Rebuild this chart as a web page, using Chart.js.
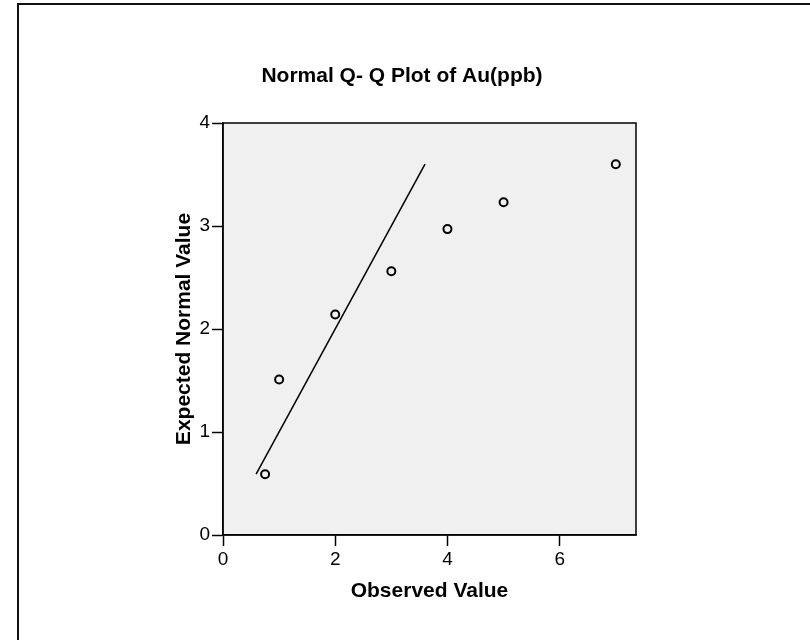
<!DOCTYPE html>
<html>
<head>
<meta charset="utf-8">
<script src="https://cdn.jsdelivr.net/npm/chart.js@4/dist/chart.umd.min.js"></script>
<style>
  html, body { margin: 0; padding: 0; background: #fff; }
  canvas { display: block; }
</style>
</head>
<body>
<canvas id="qqChart" width="810" height="640"></canvas>
<script>
// values
const observed = [0.75, 1, 2, 3, 4, 5, 7];
const expected = [0.59, 1.51, 2.14, 2.56, 2.97, 3.23, 3.60];
const refLineX = [0.59, 3.60];
const refLineY = [0.59, 3.60];
const xTicks = [0, 2, 4, 6];
const yTicks = [0, 1, 2, 3, 4];

const FONT = "'Liberation Sans', Arial, sans-serif";

const chartTitle = "Normal Q- Q Plot of Au(ppb)";
const xTitle = "Observed Value";
const yTitle = "Expected Normal Value";

const frame = {
  id: "frame",
  beforeDraw(chart) {
    const { ctx, chartArea: a } = chart;
    ctx.save();
    ctx.fillStyle = "#fff";
    ctx.fillRect(0, 0, chart.width, chart.height);
    // outer border, only top and left visible
    ctx.fillStyle = "#111";
    ctx.fillRect(17, 3, 2, chart.height);
    ctx.fillRect(17, 3, chart.width, 2);
    // plot background
    ctx.fillStyle = "#f0f0f0";
    ctx.fillRect(a.left, a.top, a.right - a.left, a.bottom - a.top);
    ctx.restore();
  },
  afterDraw(chart) {
    const { ctx, chartArea: a } = chart;
    ctx.save();
    ctx.strokeStyle = "#000";
    ctx.lineWidth = 1.5;
    ctx.strokeRect(a.left, a.top, a.right - a.left, a.bottom - a.top);

    ctx.fillStyle = "#000";
    ctx.font = "bold 21px " + FONT;
    ctx.textAlign = "center";
    ctx.textBaseline = "alphabetic";
    ctx.fillText(chartTitle, 402, 82);
    ctx.fillText(xTitle, (a.left + a.right) / 2, 597);

    ctx.translate(190, (a.top + a.bottom) / 2);
    ctx.rotate(-Math.PI / 2);
    ctx.fillText(yTitle, 0, 0);
    ctx.restore();
  }
};

function axisStyle() {
  return {
    grid: { drawOnChartArea: false, drawTicks: true, tickLength: 11, tickColor: "#000", tickWidth: 1.5 },
    border: { color: "#000", width: 1.5 },
    ticks: { color: "#000", font: { family: FONT, size: 19 }, padding: 2, maxRotation: 0 }
  };
}

const ctx = document.getElementById("qqChart");

new Chart(ctx, {
  type: "scatter",
  data: {
    datasets: [
      {
        data: observed.map((x, i) => ({ x, y: expected[i] })),
        pointStyle: "circle",
        pointRadius: 4,
        pointBorderWidth: 2,
        borderColor: "#000",
        backgroundColor: "rgba(0,0,0,0)",
        showLine: false
      },
      {
        data: refLineX.map((x, i) => ({ x, y: refLineY[i] })),
        showLine: true,
        borderColor: "#000",
        borderWidth: 1.5,
        pointRadius: 0
      }
    ]
  },
  options: {
    responsive: false,
    animation: false,
    layout: { padding: { left: 183, top: 123, right: 174, bottom: 60 } },
    plugins: { legend: { display: false }, tooltip: { enabled: false } },
    scales: {
      x: {
        type: "linear",
        min: 0,
        max: 7.36,
        afterFit: (s) => { s.height = 45; },
        afterBuildTicks: (s) => { s.ticks = xTicks.map((v) => ({ value: v })); },
        ...axisStyle()
      },
      y: {
        type: "linear",
        min: 0,
        max: 4,
        afterFit: (s) => { s.width = 40; },
        afterBuildTicks: (s) => { s.ticks = yTicks.map((v) => ({ value: v })); },
        ...axisStyle()
      }
    }
  },
  plugins: [frame]
});
</script>
</body>
</html>
